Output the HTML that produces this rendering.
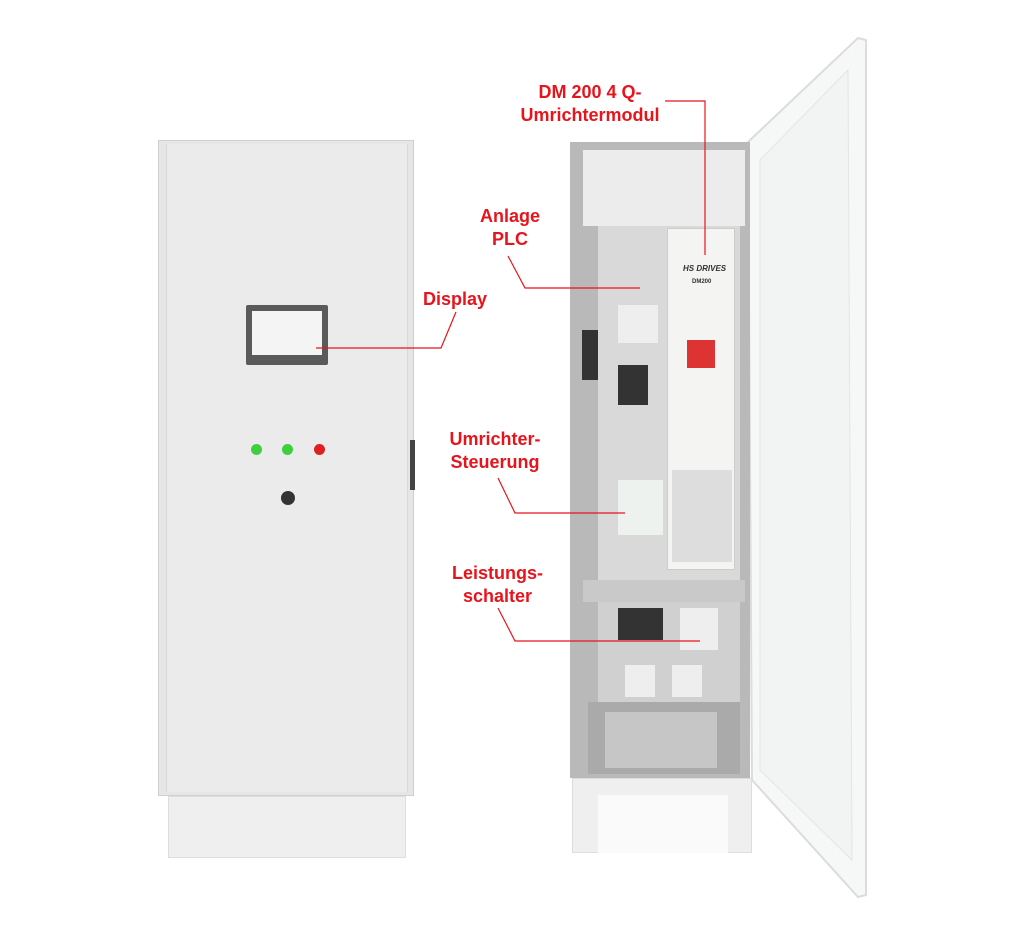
<!DOCTYPE html>
<html><head><meta charset="utf-8"><style>
body{margin:0;background:#fff;}
.w{position:relative;width:1024px;height:943px;overflow:hidden;background:#fff;font-family:"Liberation Sans",sans-serif;}
.a{position:absolute;}
.lbl{position:absolute;color:#e8141c;font-weight:bold;font-size:18px;text-align:center;line-height:23px;white-space:nowrap;}
</style></head><body><div class="w">
<!-- left cabinet -->
<div class="a" style="left:158px;top:140px;width:256px;height:656px;background:#e6e6e6;border:1px solid #cfcfcf;box-sizing:border-box"></div>
<div class="a" style="left:166px;top:144px;width:240px;height:648px;background:#ebebeb;border-left:1px solid #d8d8d8;border-right:1px solid #d8d8d8"></div>
<div class="a" style="left:168px;top:796px;width:238px;height:62px;background:#efefef;border:1px solid #dedede;box-sizing:border-box"></div>
<div class="a" style="left:410px;top:440px;width:5px;height:50px;background:#444"></div>
<div class="a" style="left:246px;top:305px;width:82px;height:60px;background:#5a5a5a;border-radius:2px"></div>
<div class="a" style="left:252px;top:311px;width:70px;height:44px;background:#f4f4f4"></div>
<div class="a" style="left:251px;top:444px;width:11px;height:11px;border-radius:50%;background:#3ecf3e"></div>
<div class="a" style="left:282px;top:444px;width:11px;height:11px;border-radius:50%;background:#3ecf3e"></div>
<div class="a" style="left:314px;top:444px;width:11px;height:11px;border-radius:50%;background:#e02020"></div>
<div class="a" style="left:281px;top:491px;width:14px;height:14px;border-radius:50%;background:#333"></div>
<!-- door -->
<svg class="a" style="left:0;top:0" width="1024" height="943">
<polygon points="748,142 858,38 866,40 866,895 858,897 752,780" fill="#f6f7f7" stroke="#dcdcdc" stroke-width="2"/>
<polygon points="760,160 848,70 852,860 760,770" fill="#f2f4f4" stroke="#e4e4e4"/>
</svg>
<!-- right cabinet -->
<div class="a" style="left:570px;top:142px;width:180px;height:636px;background:#b9b9b9"></div>
<div class="a" style="left:583px;top:150px;width:162px;height:76px;background:#ececec"></div>
<div class="a" style="left:598px;top:226px;width:142px;height:375px;background:#d9d9d9"></div>
<div class="a" style="left:583px;top:580px;width:162px;height:22px;background:#c9c9c9"></div>
<div class="a" style="left:598px;top:602px;width:142px;height:100px;background:#d0d0d0"></div>
<div class="a" style="left:588px;top:702px;width:152px;height:72px;background:#aaa"></div>
<div class="a" style="left:605px;top:712px;width:112px;height:56px;background:#c6c6c6"></div>
<div class="a" style="left:667px;top:228px;width:68px;height:342px;background:#f4f4f2;border:1px solid #ccc;box-sizing:border-box"></div>
<div class="a" style="left:683px;top:264px;font-size:8px;font-weight:bold;font-style:italic;color:#333">HS DRIVES</div>
<div class="a" style="left:692px;top:279px;font-size:6px;font-weight:bold;color:#333">DM200</div>
<div class="a" style="left:687px;top:340px;width:28px;height:28px;background:#d33"></div>
<div class="a" style="left:672px;top:470px;width:60px;height:92px;background:#ddd"></div>
<div class="a" style="left:618px;top:365px;width:30px;height:40px;background:#333"></div>
<div class="a" style="left:582px;top:330px;width:16px;height:50px;background:#333"></div>
<div class="a" style="left:618px;top:305px;width:40px;height:38px;background:#eee"></div>
<div class="a" style="left:618px;top:480px;width:45px;height:55px;background:#eef2ee"></div>
<div class="a" style="left:618px;top:608px;width:45px;height:32px;background:#333"></div>
<div class="a" style="left:680px;top:608px;width:38px;height:42px;background:#eee"></div>
<div class="a" style="left:625px;top:665px;width:30px;height:32px;background:#eee"></div>
<div class="a" style="left:672px;top:665px;width:30px;height:32px;background:#eee"></div>
<div class="a" style="left:572px;top:778px;width:180px;height:75px;background:#efefef;border:1px solid #ddd;box-sizing:border-box"></div>
<div class="a" style="left:598px;top:795px;width:130px;height:58px;background:#fafafa"></div>
<!-- red lines -->
<svg class="a" style="left:0;top:0" width="1024" height="943">
<g fill="none" stroke="#e8141c" stroke-width="1.2">
<polyline points="665,101 705,101 705,255"/>
<polyline points="508,256 525,288 640,288"/>
<polyline points="456,312 441,348 316,348"/>
<polyline points="498,478 515,513 625,513"/>
<polyline points="498,608 515,641 700,641"/>
</g></svg>
<div class="lbl" style="left:500px;top:81px;width:180px">DM 200 4 Q-<br>Umrichtermodul</div>
<div class="lbl" style="left:460px;top:205px;width:100px">Anlage<br>PLC</div>
<div class="lbl" style="left:410px;top:288px;width:90px">Display</div>
<div class="lbl" style="left:435px;top:428px;width:120px">Umrichter-<br>Steuerung</div>
<div class="lbl" style="left:440px;top:562px;width:115px">Leistungs-<br>schalter</div>
</div></body></html>
